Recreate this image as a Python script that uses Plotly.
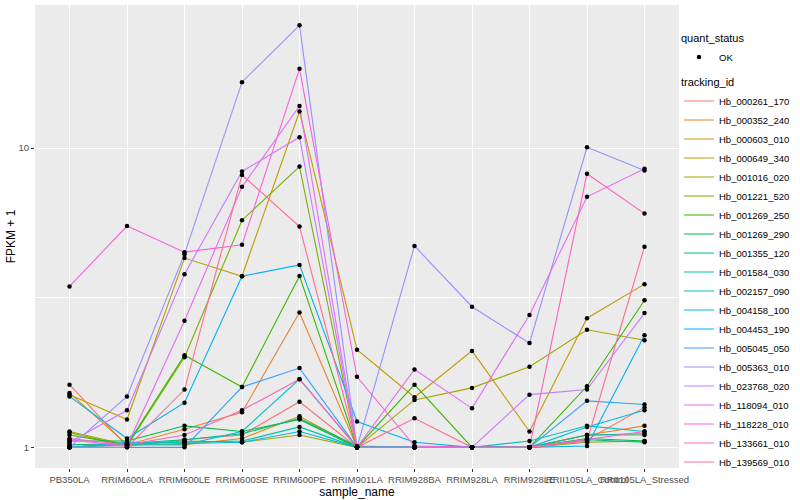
import plotly.graph_objects as go

samples = ["PB350LA", "RRIM600LA", "RRIM600LE", "RRIM600SE", "RRIM600PE",
           "RRIM901LA", "RRIM928BA", "RRIM928LA", "RRIM928LE",
           "RRII105LA_Control", "RRII105LA_Stressed"]

tracking_ids = ["Hb_000261_170", "Hb_000352_240", "Hb_000603_010", "Hb_000649_340",
                "Hb_001016_020", "Hb_001221_520", "Hb_001269_250", "Hb_001269_290",
                "Hb_001355_120", "Hb_001584_030", "Hb_002157_090", "Hb_004158_100",
                "Hb_004453_190", "Hb_005045_050", "Hb_005363_010", "Hb_023768_020",
                "Hb_118094_010", "Hb_118228_010", "Hb_133661_010", "Hb_139569_010"]

colors = ["#F8766D", "#EA8331", "#D89000", "#C09B00", "#A3A500", "#7CAE00",
          "#39B600", "#00BB4E", "#00BF7D", "#00C1A3", "#00BFC4", "#00BAE0",
          "#00B0F6", "#35A2FF", "#9590FF", "#C77CFF", "#E76BF3", "#FA62DB",
          "#FF62BC", "#FF6C91"]

# FPKM + 1 values, one list per tracking_id, in sample order
Hb_000261_170 = [1.62, 1.01, 1.06, 1.10, 1.42, 1.00, 1.00, 1.00, 1.00, 1.06, 1.36]
Hb_000352_240 = [1.02, 1.02, 1.15, 1.31, 2.82, 1.00, 1.00, 1.00, 1.00, 1.10, 1.18]
Hb_000603_010 = [1.52, 1.02, 1.02, 1.07, 1.27, 1.00, 1.00, 1.00, 1.00, 1.10, 1.10]
Hb_000649_340 = [1.50, 1.24, 4.29, 3.73, 13.25, 2.12, 1.47, 2.10, 1.13, 2.70, 3.51]
Hb_001016_020 = [1.13, 1.02, 1.05, 1.04, 1.10, 1.00, 1.44, 1.58, 1.86, 2.47, 2.28]
Hb_001221_520 = [1.12, 1.01, 2.00, 5.74, 8.67, 1.00, 1.00, 1.00, 1.00, 1.04, 1.05]
Hb_001269_250 = [1.10, 1.02, 2.03, 1.59, 3.74, 1.00, 1.62, 1.00, 1.00, 1.60, 3.10]
Hb_001269_290 = [1.05, 1.05, 1.18, 1.13, 1.24, 1.00, 1.00, 1.00, 1.00, 1.07, 1.05]
Hb_001355_120 = [1.02, 1.03, 1.06, 1.11, 1.25, 1.01, 1.00, 1.00, 1.00, 1.06, 1.04]
Hb_001584_030 = [1.00, 1.03, 1.04, 1.05, 1.17, 1.00, 1.00, 1.00, 1.00, 1.10, 1.11]
Hb_002157_090 = [1.00, 1.02, 1.02, 1.13, 1.69, 1.00, 1.00, 1.00, 1.05, 1.18, 1.13]
Hb_004158_100 = [1.00, 1.04, 1.03, 1.04, 1.13, 1.00, 1.00, 1.00, 1.00, 1.17, 1.33]
Hb_004453_190 = [1.48, 1.07, 1.41, 3.73, 4.07, 1.22, 1.04, 1.00, 1.00, 1.01, 2.37]
Hb_005045_050 = [1.00, 1.00, 1.00, 1.59, 1.84, 1.00, 1.00, 1.00, 1.00, 1.43, 1.39]
Hb_005363_010 = [1.00, 1.48, 4.42, 16.6, 25.7, 1.00, 4.71, 2.95, 2.23, 10.06, 8.41]
Hb_023768_020 = [1.04, 1.33, 3.79, 8.35, 10.87, 1.00, 1.00, 1.00, 1.50, 1.56, 2.81]
Hb_118094_010 = [1.06, 1.01, 2.65, 7.42, 13.82, 1.00, 1.82, 1.35, 2.77, 6.87, 8.53]
Hb_118228_010 = [3.45, 5.49, 4.49, 4.75, 18.4, 1.72, 1.01, 1.00, 1.00, 1.06, 1.13]
Hb_133661_010 = [1.07, 1.02, 1.10, 1.33, 1.69, 1.00, 1.00, 1.00, 1.00, 8.21, 6.04]
Hb_139569_010 = [1.00, 1.00, 1.56, 8.13, 5.47, 1.00, 1.25, 1.00, 1.00, 1.05, 4.68]

series_values = [Hb_000261_170, Hb_000352_240, Hb_000603_010, Hb_000649_340,
                 Hb_001016_020, Hb_001221_520, Hb_001269_250, Hb_001269_290,
                 Hb_001355_120, Hb_001584_030, Hb_002157_090, Hb_004158_100,
                 Hb_004453_190, Hb_005045_050, Hb_005363_010, Hb_023768_020,
                 Hb_118094_010, Hb_118228_010, Hb_133661_010, Hb_139569_010]

y_tick_vals = [1, 10]
y_tick_text = ["1", "10"]

fig = go.Figure()

for name, col, vals in zip(tracking_ids, colors, series_values):
    fig.add_trace(go.Scatter(
        x=samples, y=vals, mode="lines", name=name, showlegend=True,
        line=dict(color=col, width=1.1), legend="legend2",
        hoverinfo="skip"))

all_x, all_y = [], []
for vals in series_values:
    all_x += samples
    all_y += vals
fig.add_trace(go.Scatter(
    x=all_x, y=all_y, mode="markers", name="OK", showlegend=True,
    marker=dict(color="black", size=4.5, symbol="circle"),
    legend="legend", hoverinfo="skip"))

font_family = "Liberation Sans, Arial, sans-serif"

fig.update_layout(
    width=800, height=500, showlegend=True,
    margin=dict(l=35, r=116, t=5, b=32),
    paper_bgcolor="white", plot_bgcolor="#EBEBEB",
    font=dict(family=font_family, size=10, color="#000000"),
    xaxis=dict(
        type="category", categoryorder="array", categoryarray=samples,
        range=[-0.6, 10.6], showgrid=True, gridcolor="white", gridwidth=1.1,
        zeroline=False, showline=False, tickangle=0, automargin=False,
        ticks="outside", ticklen=3, tickcolor="#333333", tickwidth=1,
        tickfont=dict(size=9.5, color="#4D4D4D", family=font_family),
        title=dict(text="sample_name", standoff=2,
                   font=dict(size=12, color="#000000", family=font_family)),
    ),
    yaxis=dict(
        type="log", range=[-0.069, 1.478], automargin=False,
        tickmode="array", tickvals=y_tick_vals, ticktext=y_tick_text,
        showgrid=True, gridcolor="white", gridwidth=1.1,
        minor=dict(tickmode="array", tickvals=[10 ** 0.5], showgrid=True,
                   gridcolor="white", gridwidth=0.55, ticks=""),
        zeroline=False, showline=False,
        ticks="outside", ticklen=3, tickcolor="#333333", tickwidth=1,
        tickfont=dict(size=9.5, color="#4D4D4D", family=font_family),
        title=dict(text="FPKM + 1", standoff=0,
                   font=dict(size=12, color="#000000", family=font_family)),
    ),
    legend=dict(
        title=dict(text="quant_status", font=dict(size=11)),
        x=1.0, y=0.95, xanchor="left", yanchor="top",
        bgcolor="rgba(0,0,0,0)", font=dict(size=9.5), itemwidth=30,
    ),
    legend2=dict(
        title=dict(text="tracking_id", font=dict(size=11)),
        x=1.0, y=0.855, xanchor="left", yanchor="top",
        bgcolor="rgba(0,0,0,0)", font=dict(size=9.5), itemwidth=30,
        tracegroupgap=0,
    ),
)

fig.write_html("out.html", config={"displayModeBar": False},
               post_script="document.body.style.margin='0';document.body.style.padding='0';")
